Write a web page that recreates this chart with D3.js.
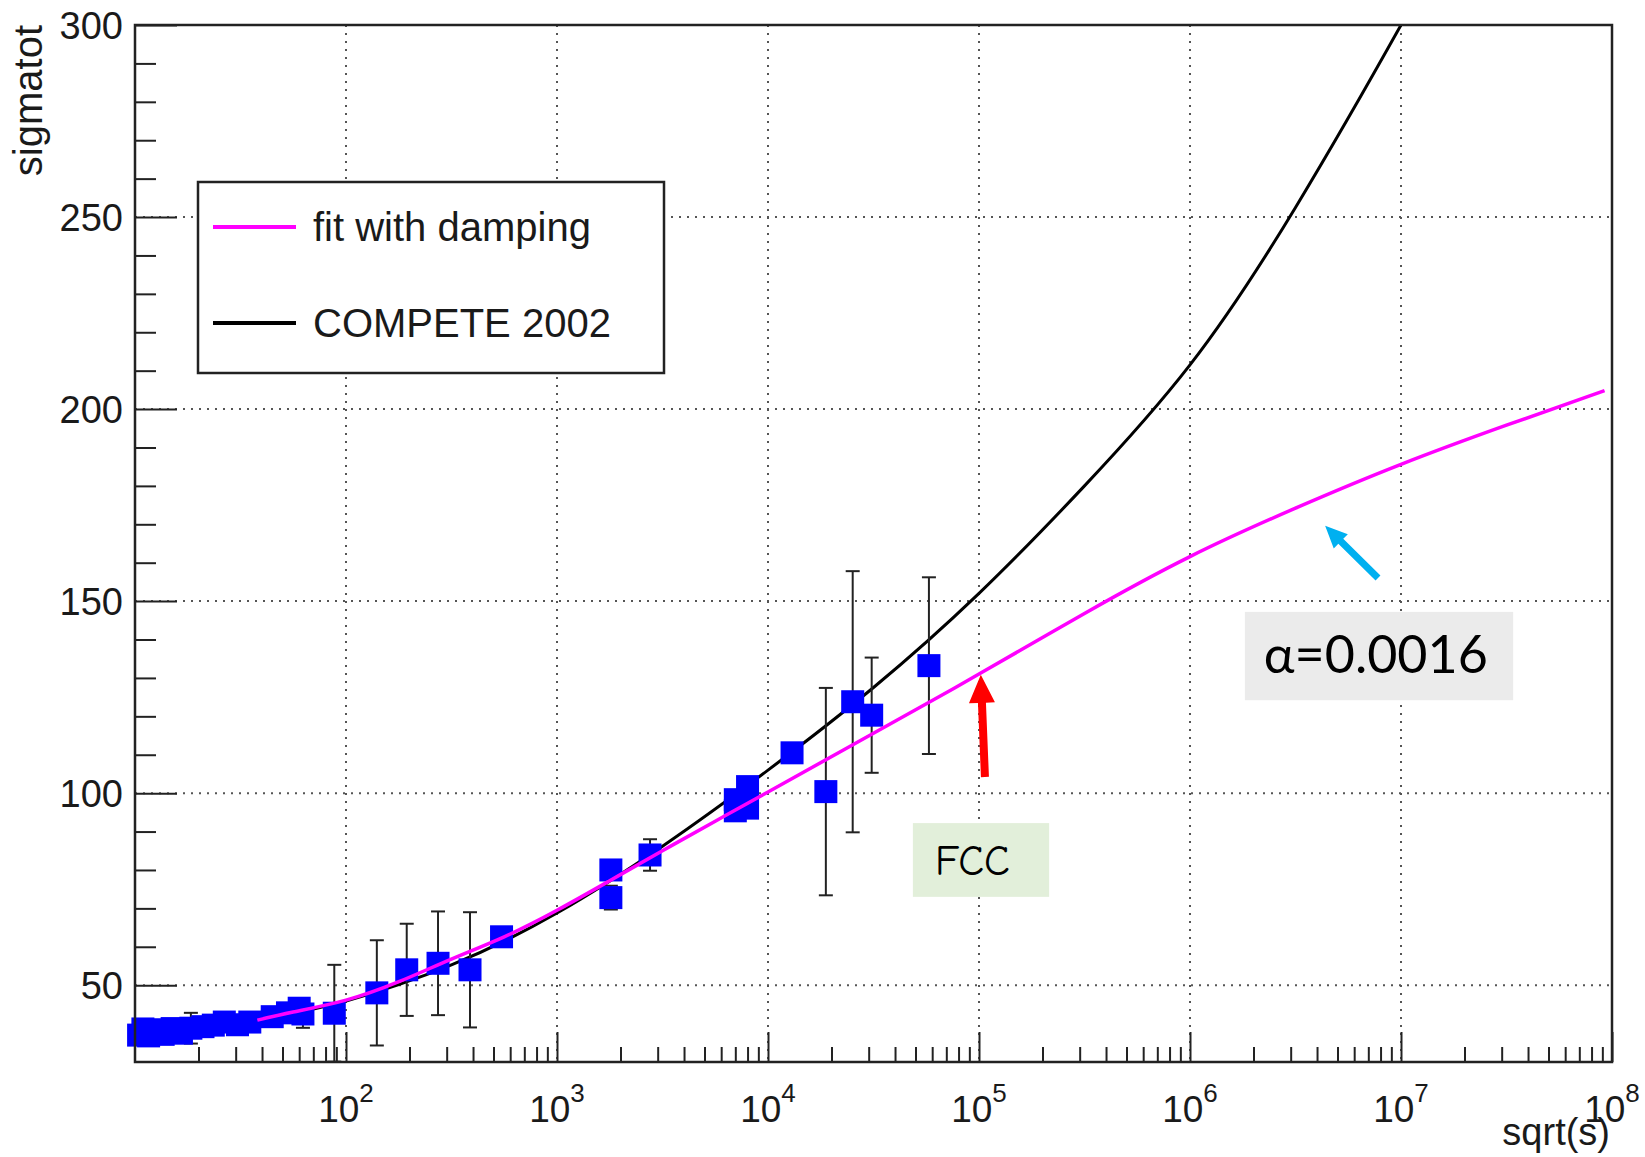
<!DOCTYPE html>
<html>
<head>
<meta charset="utf-8">
<script src="https://cdn.jsdelivr.net/npm/d3@7"></script>
<style>
  body { margin: 0; background: #fff; }
  svg text { font-family: "Liberation Sans", Arial, Helvetica, sans-serif; fill: #1a1a1a; }
</style>
</head>
<body>
<script>
// measured total cross sections: sqrt(s) in GeV, sigma in mb
var sqrtS    = [10.4, 10.9, 11.6, 12.4, 13.6, 15.0, 16.6, 18.4, 21.0, 23.5, 26.5, 30.6, 35.0, 44.7, 52.8, 60.0, 62.5,
                88, 140, 194, 273, 387, 546, 1800, 1800, 2760, 7000, 7000, 8000, 8000, 13000, 18800, 25200, 31000, 57900];
var sigma    = [37.0, 38.6, 36.8, 38.4, 37.2, 38.7, 37.5, 38.8, 39.2, 39.6, 40.4, 39.7, 40.4, 41.8, 42.8, 44.0, 42.5,
                42.7, 48.0, 54.0, 55.7, 54.0, 62.6, 80.0, 72.8, 83.9, 98.3, 95.4, 101.7, 96.1, 110.5, 100.4, 123.8, 120.3, 133.2];
var sigmaErr = [0, 0, 0, 0, 0, 0, 0, 4.0, 0, 0, 0, 0, 0, 0, 0, 0, 3.6,
                12.6, 13.7, 12.0, 13.5, 15.0, 0, 0, 3.1, 4.1, 0, 0, 0, 0, 0, 27, 34, 15, 23];

// fit with damping (magenta)
var fitSqrtS = [38, 56.2, 100, 178, 316, 562, 1000, 1778, 3162, 5623, 1e4, 3.162e4, 1e5, 3.162e5,
                1e6, 3.162e6, 1e7, 3.162e7, 9.22e7];
var fitSigma = [40.9, 43.0, 46.1, 50.9, 56.8, 62.6, 69.5, 77.2, 85.0, 92.7, 100.3, 115.6, 131.0, 146.8,
                161.6, 174.2, 185.6, 195.8, 204.8];

// COMPETE 2002 (black)
var competeSqrtS = [50, 100, 316, 1000, 3162, 1e4, 3.162e4, 1e5, 3.162e5, 1e6, 3.162e6, 1e7, 1.26e7];
var competeSigma = [42.3, 45.9, 55.3, 68.8, 86.2, 106.0, 127.5, 152.0, 180.0, 211.5, 252.5, 300.0, 310.5];

var xTickPowers = [2, 3, 4, 5, 6, 7, 8];
var yTicks = [50, 100, 150, 200, 250, 300];
var legendLabels = ["fit with damping", "COMPETE 2002"];
var legendColors = ["#ff00ff", "#000000"];

var margin = { top: 25, right: 33, bottom: 95, left: 135 },
    width = 1645 - margin.left - margin.right,
    height = 1157 - margin.top - margin.bottom;

var svg = d3.select("body")
    .append("svg")
    .attr("width", 1645)
    .attr("height", 1157)
    .append("g")
    .attr("transform", "translate(" + margin.left + "," + margin.top + ")");

var xScale = d3.scaleLog().domain([10, 1e8]).range([0, width]);
var yScale = d3.scaleLinear().domain([30, 300]).range([height, 0]);

svg.append("clipPath").attr("id", "frame")
    .append("rect").attr("width", width).attr("height", height);

// grid (dotted, ROOT style)
var xMajor = xTickPowers.map(function(p) { return Math.pow(10, p); });
svg.append("g").selectAll("line")
    .data(xMajor.slice(0, -1))
    .enter().append("line")
    .attr("x1", function(d) { return xScale(d); })
    .attr("x2", function(d) { return xScale(d); })
    .attr("y1", 0).attr("y2", height)
    .attr("stroke", "#555").attr("stroke-width", 2).attr("stroke-dasharray", "2,6");
svg.append("g").selectAll("line")
    .data(yTicks.slice(0, -1))
    .enter().append("line")
    .attr("x1", 0).attr("x2", width)
    .attr("y1", function(d) { return yScale(d); })
    .attr("y2", function(d) { return yScale(d); })
    .attr("stroke", "#555").attr("stroke-width", 2).attr("stroke-dasharray", "2,6");

// minor tick values
var xMinor = [];
for (var p = 1; p < 8; p++) {
    for (var m = 2; m < 10; m++) xMinor.push(m * Math.pow(10, p));
}
var yMinor = d3.range(40, 300, 10).filter(function(v) { return v % 50 !== 0; });

// x axis ticks (inward)
svg.append("g").attr("class", "axis")
    .attr("transform", "translate(0," + height + ")")
    .call(d3.axisBottom(xScale).tickValues(xMinor).tickSize(-15).tickSizeOuter(0).tickFormat(""));
svg.append("g").attr("class", "axis")
    .attr("transform", "translate(0," + height + ")")
    .call(d3.axisBottom(xScale).tickValues(xMajor).tickSize(-30).tickSizeOuter(0).tickFormat(""));

// y axis ticks (inward)
svg.append("g").attr("class", "axis")
    .call(d3.axisLeft(yScale).tickValues(yMinor).tickSize(-21).tickSizeOuter(0).tickFormat(""));
var yAxisG = svg.append("g").attr("class", "axis")
    .call(d3.axisLeft(yScale).tickValues(yTicks).tickSize(-42).tickSizeOuter(0).tickPadding(12));
yAxisG.selectAll("text")
    .style("font-size", "38px")
    .attr("dy", "0.36em");

svg.selectAll(".axis .domain").remove();
svg.selectAll(".axis line").attr("stroke", "#222").attr("stroke-width", 2);

// x tick labels 10^n
var xLab = svg.append("g").selectAll("text")
    .data(xTickPowers)
    .enter().append("text")
    .attr("x", function(d) { return xScale(Math.pow(10, d)); })
    .attr("y", height + 60)
    .attr("text-anchor", "middle")
    .style("font-size", "37px");
xLab.append("tspan").text("10");
xLab.append("tspan").attr("dy", -20).style("font-size", "26px").text(function(d) { return d; });

// axis titles
svg.append("text")
    .attr("x", width - 2)
    .attr("y", height + 83)
    .attr("text-anchor", "end")
    .style("font-size", "38px")
    .text("sqrt(s)");
svg.append("text")
    .attr("transform", "translate(-93,0) rotate(-90)")
    .attr("text-anchor", "end")
    .style("font-size", "40px")
    .text("sigmatot");

// curves
var line = d3.line()
    .x(function(d) { return xScale(d[0]); })
    .y(function(d) { return yScale(d[1]); })
    .curve(d3.curveNatural);

svg.append("path")
    .datum(d3.zip(competeSqrtS, competeSigma))
    .attr("clip-path", "url(#frame)")
    .attr("d", line)
    .attr("fill", "none")
    .attr("stroke", "#000")
    .attr("stroke-width", 3);

// data points with error bars
var pts = d3.zip(sqrtS, sigma, sigmaErr);
var withErr = pts.filter(function(d) { return d[2] > 0; });
var eb = svg.append("g").attr("stroke", "#222").attr("stroke-width", 2);
eb.selectAll(".bar").data(withErr).enter().append("line")
    .attr("x1", function(d) { return xScale(d[0]); })
    .attr("x2", function(d) { return xScale(d[0]); })
    .attr("y1", function(d) { return yScale(d[1] - d[2]); })
    .attr("y2", function(d) { return yScale(d[1] + d[2]); });
[-1, 1].forEach(function(sgn) {
    eb.selectAll(".cap" + sgn).data(withErr).enter().append("line")
        .attr("x1", function(d) { return xScale(d[0]) - 7; })
        .attr("x2", function(d) { return xScale(d[0]) + 7; })
        .attr("y1", function(d) { return yScale(d[1] + sgn * d[2]); })
        .attr("y2", function(d) { return yScale(d[1] + sgn * d[2]); });
});

svg.append("g").selectAll("rect")
    .data(pts)
    .enter().append("rect")
    .attr("x", function(d) { return xScale(d[0]) - 11.5; })
    .attr("y", function(d) { return yScale(d[1]) - 11.5; })
    .attr("width", 23)
    .attr("height", 23)
    .attr("fill", "#0000ff");

svg.append("path")
    .datum(d3.zip(fitSqrtS, fitSigma))
    .attr("clip-path", "url(#frame)")
    .attr("d", line)
    .attr("fill", "none")
    .attr("stroke", "#ff00ff")
    .attr("stroke-width", 3.5);

// frame
svg.append("rect")
    .attr("width", width).attr("height", height)
    .attr("fill", "none").attr("stroke", "#222").attr("stroke-width", 2.5);

// legend
var legend = svg.append("g").attr("transform", "translate(63,157)");
legend.append("rect")
    .attr("width", 466).attr("height", 191)
    .attr("fill", "#fff").attr("stroke", "#222").attr("stroke-width", 2.5);
legendLabels.forEach(function(lbl, i) {
    var ly = 45 + i * 96;
    legend.append("line")
        .attr("x1", 15).attr("x2", 98).attr("y1", ly).attr("y2", ly)
        .attr("stroke", legendColors[i]).attr("stroke-width", 4);
    legend.append("text")
        .attr("x", 115).attr("y", ly).attr("dy", "0.36em")
        .style("font-size", "40px")
        .text(lbl);
});

// arrows as polygons
function arrow(x0, y0, x1, y1, shaft, headW, headL, color) {
    var dx = x1 - x0, dy = y1 - y0, len = Math.sqrt(dx * dx + dy * dy);
    var ux = dx / len, uy = dy / len, nx = -uy, ny = ux;
    var bx = x1 - ux * headL, by = y1 - uy * headL;
    var pts = [
        [x0 + nx * shaft / 2, y0 + ny * shaft / 2],
        [bx + nx * shaft / 2, by + ny * shaft / 2],
        [bx + nx * headW / 2, by + ny * headW / 2],
        [x1, y1],
        [bx - nx * headW / 2, by - ny * headW / 2],
        [bx - nx * shaft / 2, by - ny * shaft / 2],
        [x0 - nx * shaft / 2, y0 - ny * shaft / 2]
    ];
    svg.append("polygon").attr("points", pts.map(function(p) { return p.join(","); }).join(" "))
        .attr("fill", color);
}

// FCC annotation
svg.append("rect")
    .attr("x", xScale(4.86e4)).attr("y", yScale(92.2))
    .attr("width", xScale(2.15e5) - xScale(4.86e4))
    .attr("height", yScale(73.0) - yScale(92.2))
    .attr("fill", "#e2efda");
svg.append("text")
    .attr("x", xScale(9.3e4)).attr("y", yScale(78.6))
    .attr("text-anchor", "middle")
    .style("font-family", "'Comic Sans MS', 'Comic Neue', Lato, sans-serif")
    .style("font-size", "42px")
    .style("fill", "#000")
    .text("FCC");
arrow(xScale(1.067e5), yScale(104.2), xScale(1.02e5), yScale(130.8), 8, 26, 28, "#ff0000");

// damping parameter annotation
svg.append("rect")
    .attr("x", xScale(1.82e6)).attr("y", yScale(147.2))
    .attr("width", xScale(3.4e7) - xScale(1.82e6))
    .attr("height", yScale(124.2) - yScale(147.2))
    .attr("fill", "#ebebeb");
svg.append("text")
    .attr("x", xScale(7.6e6)).attr("y", yScale(131.3))
    .attr("text-anchor", "middle")
    .style("font-family", "Lato, 'Open Sans', sans-serif")
    .style("font-size", "52px")
    .style("fill", "#000")
    .text("α=0.0016");
arrow(xScale(7.78e6), yScale(156.0), xScale(4.37e6), yScale(169.6), 7, 20, 22, "#00b0f0");
</script>
</body>
</html>
